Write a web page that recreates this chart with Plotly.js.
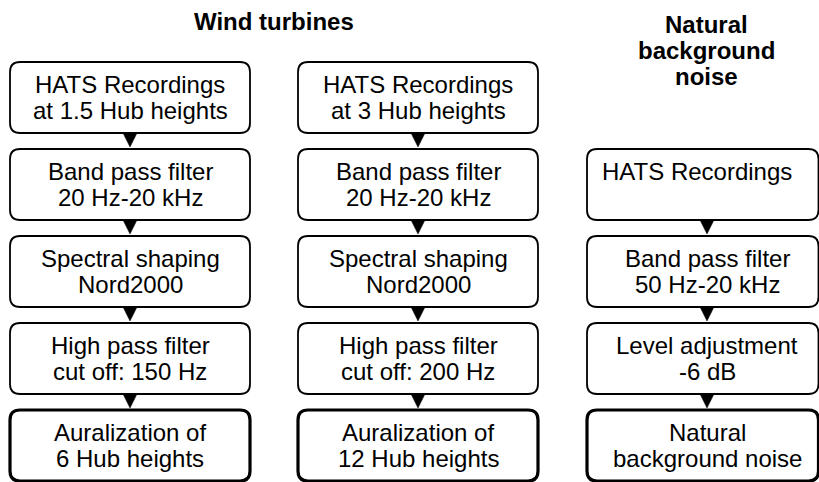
<!DOCTYPE html>
<html>
<head>
<meta charset="utf-8">
<script src="https://cdn.plot.ly/plotly-3.0.1.min.js"></script>
<style>html,body{margin:0;padding:0;background:#fff;}#chart{width:819px;height:482px;}</style>
</head>
<body>
<div id="chart"></div>
<script>
// ---- content (data) ----
const groupTitles = ["Wind turbines", "Natural", "background", "noise"];
const col1Steps = [
  ["HATS Recordings", "at 1.5 Hub heights"],
  ["Band pass filter", "20 Hz-20 kHz"],
  ["Spectral shaping", "Nord2000"],
  ["High pass filter", "cut off: 150 Hz"],
  ["Auralization of", "6 Hub heights"]
];
const col2Steps = [
  ["HATS Recordings", "at 3 Hub heights"],
  ["Band pass filter", "20 Hz-20 kHz"],
  ["Spectral shaping", "Nord2000"],
  ["High pass filter", "cut off: 200 Hz"],
  ["Auralization of", "12 Hub heights"]
];
const col3Steps = [
  null,
  ["HATS Recordings", ""],
  ["Band pass filter", "50 Hz-20 kHz"],
  ["Level adjustment", "-6 dB"],
  ["Natural", "background noise"]
];
const columns = [col1Steps, col2Steps, col3Steps];

// ---- layout geometry (style, not data) ----
const W = 819, H = 482;
const colLeft = [10, 298, 587];
const colRight = [250, 538, 818.5];
const colCenter = [130, 418, 707];
const rowTop0 = 62, rowPitch = 87, boxH = 71, radius = 10;
const arrowHalfW = 7, arrowLen = 14;
const FONT = "Liberation Sans, Arial, sans-serif";
const fontSize = 24;

function roundRect(x0, y0, x1, y1, r) {
  return `M${x0 + r},${y0} L${x1 - r},${y0} Q${x1},${y0} ${x1},${y0 + r} ` +
         `L${x1},${y1 - r} Q${x1},${y1} ${x1 - r},${y1} L${x0 + r},${y1} ` +
         `Q${x0},${y1} ${x0},${y1 - r} L${x0},${y0 + r} Q${x0},${y0} ${x0 + r},${y0} Z`;
}

const shapes = [];
const annotations = [];

columns.forEach((steps, c) => {
  steps.forEach((lines, r) => {
    if (!lines) return;
    const y0 = rowTop0 + r * rowPitch, y1 = y0 + boxH;
    const last = r === steps.length - 1;
    shapes.push({
      type: "path", xref: "x", yref: "y",
      path: roundRect(colLeft[c], y0, colRight[c], y1, radius),
      line: {color: "#000", width: last ? 3.2 : 1.8},
      fillcolor: "rgba(0,0,0,0)"
    });
    const xshift = (c === 2 && r === 1) ? -10 : 0;
    lines.forEach((t, i) => {
      if (!t) return;
      annotations.push({
        x: colCenter[c], y: y0 + 22.5 + i * 25.5, xref: "x", yref: "y",
        text: t, showarrow: false, xanchor: "center", yanchor: "middle",
        xshift: xshift,
        font: {family: FONT, size: fontSize, color: "#000"}
      });
    });
    // arrow to next box
    if (r < steps.length - 1 && steps[r + 1]) {
      const ay = y1, cx = colCenter[c];
      shapes.push({
        type: "path", xref: "x", yref: "y",
        path: `M${cx - arrowHalfW},${ay} L${cx + arrowHalfW},${ay} L${cx},${ay + arrowLen} Z`,
        line: {color: "#000", width: 0.5},
        fillcolor: "#000"
      });
    }
  });
});

// group titles
annotations.push({
  x: (colCenter[0] + colCenter[1]) / 2, y: 21.5, xref: "x", yref: "y",
  text: "<b>" + groupTitles[0] + "</b>", showarrow: false, xanchor: "center", yanchor: "middle",
  font: {family: FONT, size: fontSize, color: "#000"}
});
groupTitles.slice(1).forEach((t, i) => {
  annotations.push({
    x: colCenter[2] - 1, y: 24 + i * 26, xref: "x", yref: "y",
    text: "<b>" + t + "</b>", showarrow: false, xanchor: "center", yanchor: "middle",
    font: {family: FONT, size: fontSize, color: "#000"}
  });
});

const layout = {
  width: W, height: H,
  margin: {l: 0, r: 0, t: 0, b: 0, pad: 0},
  paper_bgcolor: "#fff", plot_bgcolor: "#fff",
  xaxis: {range: [0, W], visible: false, fixedrange: true},
  yaxis: {range: [H, 0], visible: false, fixedrange: true},
  showlegend: false,
  shapes: shapes,
  annotations: annotations
};

Plotly.newPlot("chart", [{x: [], y: [], type: "scatter", mode: "markers"}], layout,
  {displayModeBar: false, staticPlot: true});
</script>
</body>
</html>
